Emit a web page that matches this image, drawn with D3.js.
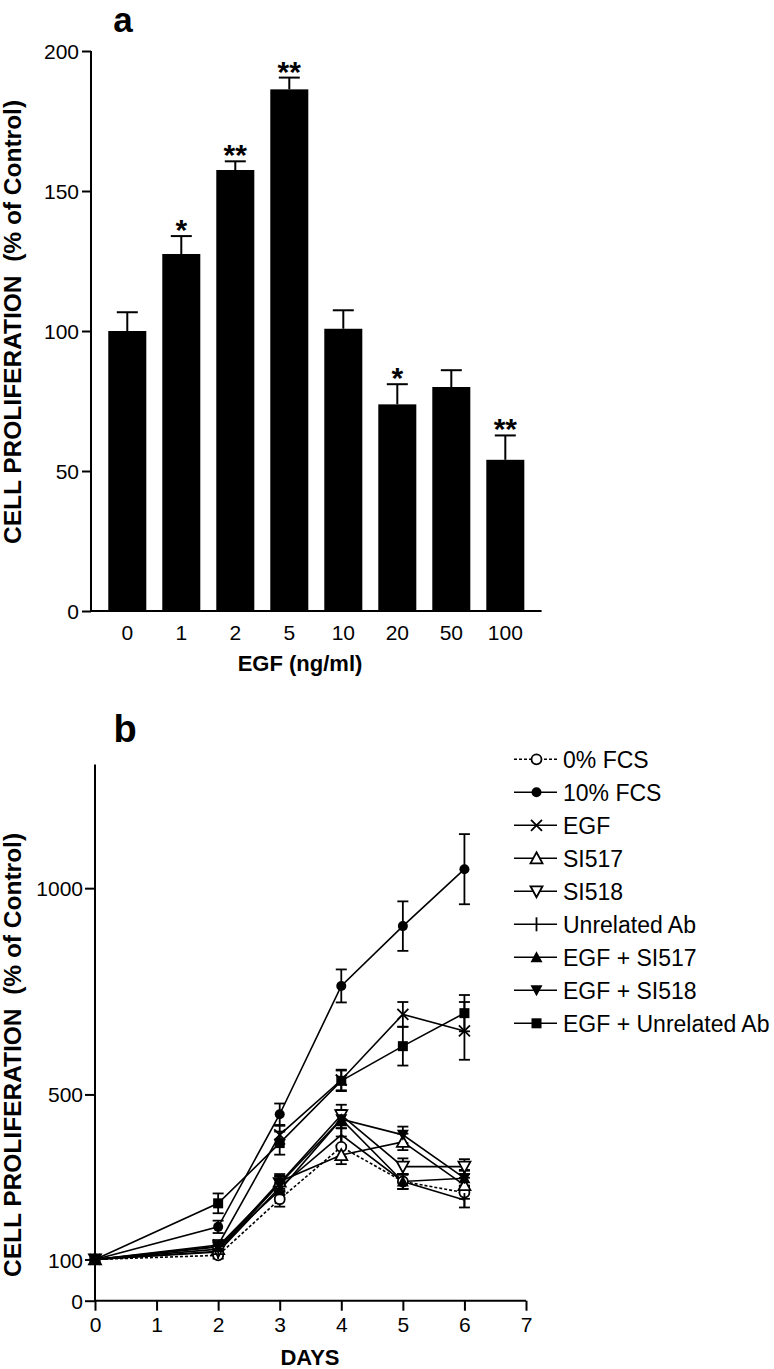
<!DOCTYPE html>
<html><head><meta charset="utf-8">
<script src="https://cdn.jsdelivr.net/npm/d3@7"></script>
<style>
body{margin:0;background:#fff;}
svg text{font-family:"Liberation Sans",Arial,sans-serif;fill:#000;}
</style></head>
<body>
<svg id="c" width="774" height="1369"></svg>
<script>
// ---------- Panel a data ----------
const egfDoses = ["0","1","2","5","10","20","50","100"];
const egfMeans = [100, 127.5, 157.5, 186.3, 100.8, 73.8, 80, 54];
const egfErrs  = [6.7, 6.4, 3.1, 4.2, 6.6, 7.2, 6, 8.7];
const egfStars = ["", "*", "**", "**", "", "*", "", "**"];
const aTicks = [0, 50, 100, 150, 200];

// ---------- Panel b data ----------
const days = [0, 2, 3, 4, 5, 6];
const bXTicks = [0, 1, 2, 3, 4, 5, 6, 7];
const bYTicks = [0, 100, 500, 1000];
const seriesNames = ["0% FCS","10% FCS","EGF","SI517","SI518","Unrelated Ab","EGF + SI517","EGF + SI518","EGF + Unrelated Ab"];
const seriesMarkers = ["circleOpen","circle","cross","triUpOpen","triDownOpen","plus","triUp","triDown","square"];
const fcs0      = [100, 110, 246, 373, 289, 262];
const fcs0Err   = [0, 8, 18, 25, 18, 15];
const fcs10     = [100, 179, 452, 763, 908, 1046];
const fcs10Err  = [0, 15, 26, 40, 60, 85];
const egf       = [100, 135, 402, 535, 694, 654];
const egfErr    = [0, 12, 22, 25, 30, 70];
const si517     = [100, 125, 289, 353, 385, 280];
const si517Err  = [0, 10, 18, 22, 20, 18];
const si518     = [100, 120, 285, 450, 325, 325];
const si518Err  = [0, 10, 18, 25, 20, 18];
const unrel     = [100, 118, 275, 402, 289, 244];
const unrelErr  = [0, 10, 18, 25, 18, 18];
const egfSi517  = [100, 130, 268, 440, 289, 297];
const egfSi517Err = [0, 10, 18, 22, 18, 18];
const egfSi518  = [100, 132, 283, 440, 402, 297];
const egfSi518Err = [0, 10, 18, 22, 20, 20];
const egfUnrel  = [100, 236, 382, 533, 617, 697];
const egfUnrelErr = [0, 24, 28, 25, 47, 44];

const seriesVals = [fcs0, fcs10, egf, si517, si518, unrel, egfSi517, egfSi518, egfUnrel];
const seriesErrs = [fcs0Err, fcs10Err, egfErr, si517Err, si518Err, unrelErr, egfSi517Err, egfSi518Err, egfUnrelErr];

const svg = d3.select("#c");
const FONT_TICK = 21;

// ================= Panel a =================
const aX = d3.scaleBand().domain(egfDoses).range([91, 541.6]).paddingInner(0.296).paddingOuter(0.32);
const aY = d3.scaleLinear().domain([0, 200]).range([611, 51]);
const ga = svg.append("g");

ga.append("text").attr("x", 123).attr("y", 32).attr("text-anchor","middle")
  .style("font-size","35px").style("font-weight","bold").text("a");

// bars
ga.selectAll("rect.bar").data(egfMeans).join("rect")
  .attr("x", (d,i)=>aX(egfDoses[i])).attr("width", aX.bandwidth())
  .attr("y", d=>aY(d)).attr("height", d=>aY(0)-aY(d)).attr("fill","#000");
// error bars (upper only)
const capW = 21;
egfMeans.forEach((m,i)=>{
  const cx = aX(egfDoses[i]) + aX.bandwidth()/2;
  const top = aY(m + egfErrs[i]);
  ga.append("line").attr("x1",cx).attr("x2",cx).attr("y1",aY(m)).attr("y2",top).attr("stroke","#000").attr("stroke-width",2);
  ga.append("line").attr("x1",cx-capW/2).attr("x2",cx+capW/2).attr("y1",top).attr("y2",top).attr("stroke","#000").attr("stroke-width",2);
  if (egfStars[i]) {
    ga.append("text").attr("x",cx).attr("y",top+4).attr("text-anchor","middle")
      .style("font-size","30px").style("font-weight","bold").text(egfStars[i]);
  }
});
// y axis
const aYAxis = ga.append("g").attr("transform","translate(91,0)")
  .call(d3.axisLeft(aY).tickValues(aTicks).tickSize(9).tickPadding(3).tickFormat(d3.format("d")));
aYAxis.select(".domain").attr("stroke-width",2).attr("d","M0,"+aY(200)+"V"+aY(0));
aYAxis.selectAll(".tick line").attr("stroke-width",2);
aYAxis.selectAll(".tick text").style("font-size",FONT_TICK+"px").attr("dy","0.36em");
// x axis
const aXAxis = ga.append("g").attr("transform","translate(0,611)")
  .call(d3.axisBottom(aX).tickSize(0).tickPadding(14));
aXAxis.select(".domain").attr("stroke-width",2).attr("d","M90,0H541.6");
aXAxis.selectAll(".tick text").style("font-size",FONT_TICK+"px");
ga.append("text").attr("x",300).attr("y",671).attr("text-anchor","middle")
  .style("font-size","22px").style("font-weight","bold").text("EGF (ng/ml)");
ga.append("text").attr("transform","translate(21,322) rotate(-90)").attr("text-anchor","middle")
  .style("font-size","24.5px").style("font-weight","bold").attr("xml:space","preserve")
  .text("CELL PROLIFERATION  (% of Control)");

// ================= Panel b =================
const bX = d3.scaleLinear().domain([0, 7]).range([95, 526]);
const bY = d3.scaleLinear().domain([0, 1300]).range([1300.7, 764.4]);
const gb = svg.append("g");

gb.append("text").attr("x",125).attr("y",742).attr("text-anchor","middle")
  .style("font-size","38px").style("font-weight","bold").text("b");

function drawMarker(g, type, x, y) {
  const s = 1.8;
  switch(type){
    case "circleOpen":
      g.append("circle").attr("cx",x).attr("cy",y).attr("r",5).attr("fill","#fff").attr("stroke","#000").attr("stroke-width",s); break;
    case "circle":
      g.append("circle").attr("cx",x).attr("cy",y).attr("r",5).attr("fill","#000"); break;
    case "square":
      g.append("rect").attr("x",x-5).attr("y",y-5).attr("width",10).attr("height",10).attr("fill","#000"); break;
    case "cross":
      g.append("path").attr("d",`M${x-5.5},${y-5.5}L${x+5.5},${y+5.5}M${x-5.5},${y+5.5}L${x+5.5},${y-5.5}`).attr("stroke","#000").attr("stroke-width",s).attr("fill","none"); break;
    case "plus":
      g.append("path").attr("d",`M${x},${y-7}V${y+7}`).attr("stroke","#000").attr("stroke-width",s).attr("fill","none"); break;
    case "triUpOpen":
      g.append("path").attr("d",`M${x},${y-6}L${x+6},${y+5}L${x-6},${y+5}Z`).attr("fill","#fff").attr("stroke","#000").attr("stroke-width",s); break;
    case "triDownOpen":
      g.append("path").attr("d",`M${x},${y+6}L${x+6},${y-5}L${x-6},${y-5}Z`).attr("fill","#fff").attr("stroke","#000").attr("stroke-width",s); break;
    case "triUp":
      g.append("path").attr("d",`M${x},${y-6}L${x+6},${y+5}L${x-6},${y+5}Z`).attr("fill","#000"); break;
    case "triDown":
      g.append("path").attr("d",`M${x},${y+6}L${x+6},${y-5}L${x-6},${y-5}Z`).attr("fill","#000"); break;
  }
}

const line = d3.line().x((d,i)=>bX(days[i])).y(d=>bY(d));
const bCap = 11;
// error bars first
seriesVals.forEach((vals,si)=>{
  vals.forEach((v,i)=>{
    const e = seriesErrs[si][i];
    if (!e) return;
    const x = bX(days[i]);
    gb.append("line").attr("x1",x).attr("x2",x).attr("y1",bY(v-e)).attr("y2",bY(v+e)).attr("stroke","#000").attr("stroke-width",1.8);
    [v-e, v+e].forEach(t=>{
      gb.append("line").attr("x1",x-bCap/2).attr("x2",x+bCap/2).attr("y1",bY(t)).attr("y2",bY(t)).attr("stroke","#000").attr("stroke-width",1.8);
    });
  });
});
// lines
seriesVals.forEach((vals,si)=>{
  gb.append("path").attr("d",line(vals)).attr("fill","none").attr("stroke","#000").attr("stroke-width",1.6)
    .attr("stroke-dasharray", si===0 ? "3,2" : null);
});
// markers
seriesVals.forEach((vals,si)=>{
  vals.forEach((v,i)=> drawMarker(gb, seriesMarkers[si], bX(days[i]), bY(v)));
});

// axes
const bYAxis = gb.append("g").attr("transform","translate(95,0)")
  .call(d3.axisLeft(bY).tickValues(bYTicks).tickSize(10).tickPadding(2).tickFormat(d3.format("d")));
bYAxis.select(".domain").attr("stroke-width",2).attr("d","M0,"+bY(1300)+"V"+bY(0));
bYAxis.selectAll(".tick line").attr("stroke-width",2);
bYAxis.selectAll(".tick text").style("font-size",FONT_TICK+"px").attr("dy","0.36em");
const bXAxis = gb.append("g").attr("transform","translate(0,1300.7)")
  .call(d3.axisBottom(bX).tickValues(bXTicks).tickSize(10).tickPadding(6).tickFormat(d3.format("d")));
bXAxis.select(".domain").attr("stroke-width",2).attr("d","M94,0H"+bX(7));
bXAxis.selectAll(".tick line").attr("stroke-width",2);
bXAxis.selectAll(".tick text").style("font-size",FONT_TICK+"px");
gb.append("text").attr("x",310).attr("y",1365).attr("text-anchor","middle")
  .style("font-size","22px").style("font-weight","bold").text("DAYS");
gb.append("text").attr("transform","translate(21,1055) rotate(-90)").attr("text-anchor","middle")
  .style("font-size","24.5px").style("font-weight","bold").attr("xml:space","preserve")
  .text("CELL PROLIFERATION  (% of Control)");

// legend
const lg = gb.append("g");
seriesNames.forEach((name,i)=>{
  const y = 759.3 + i*33;
  lg.append("line").attr("x1",514).attr("x2",557).attr("y1",y).attr("y2",y).attr("stroke","#000").attr("stroke-width",1.6)
    .attr("stroke-dasharray", i===0 ? "3,2" : null);
  drawMarker(lg, seriesMarkers[i], 536.5, y);
  lg.append("text").attr("x",563).attr("y",y).attr("dy","0.36em").style("font-size","23px").text(name);
});
</script>
</body></html>
